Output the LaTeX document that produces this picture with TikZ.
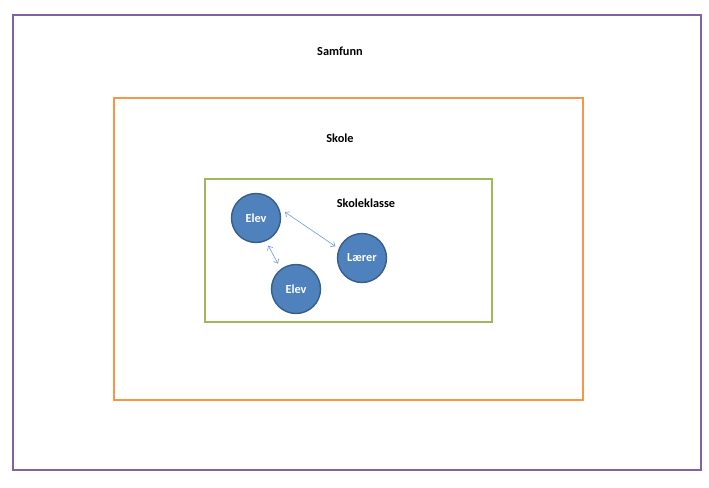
\documentclass[tikz,border=0pt]{standalone}
\usepackage{fontspec}
\setmainfont{Carlito}
\usepackage{xcolor}
\usetikzlibrary{arrows.meta}

\definecolor{purpleframe}{HTML}{8064A2}
\definecolor{orangeframe}{HTML}{F79646}
\definecolor{greenframe}{HTML}{9BBB59}
\definecolor{pupilfill}{HTML}{4F81BD}
\definecolor{pupilline}{HTML}{385D8A}
\definecolor{linkblue}{HTML}{6F9AD3}

\begin{document}
\begin{tikzpicture}[x=1pt,y=1pt,every node/.style={font=\bfseries\fontsize{12.3}{14}\selectfont},
    frame/.style={line width=1.5pt},
    person/.style={circle,fill=pupilfill,draw=pupilline,line width=1.4pt,
                   minimum size=49pt,inner sep=0pt,text=white},
    link/.style={{Straight Barb[length=3.5pt,width=6pt]}-{Straight Barb[length=3.5pt,width=6pt]},
                 linkblue,line width=0.6pt}]
  \useasboundingbox (0,0) rectangle (709,-487);
  % nested frames
  \draw[frame,purpleframe] (13,-15) rectangle (701,-470);
  \draw[frame,orangeframe] (114,-98) rectangle (583,-400);
  \draw[frame,greenframe] (205,-179) rectangle (492,-322);
  \node (samfunn) at (340,-51) {Samfunn};
  \node (skole) at (340,-138) {Skole};
  \node (klasse) at (366,-203) {Skoleklasse};
  % people in the class
  \node[person] (elevA) at (256,-218) {Elev};
  \node[person] (elevB) at (296,-289) {Elev};
  \node[person] (laerer) at (362,-258) {Lærer};
  \draw[link,shorten <=7pt,shorten >=4pt] (elevA.23) -- (laerer.158);
  \draw[link,shorten <=5pt,shorten >=6pt] (elevA.-67) -- (elevB.127);
\end{tikzpicture}
\end{document}
